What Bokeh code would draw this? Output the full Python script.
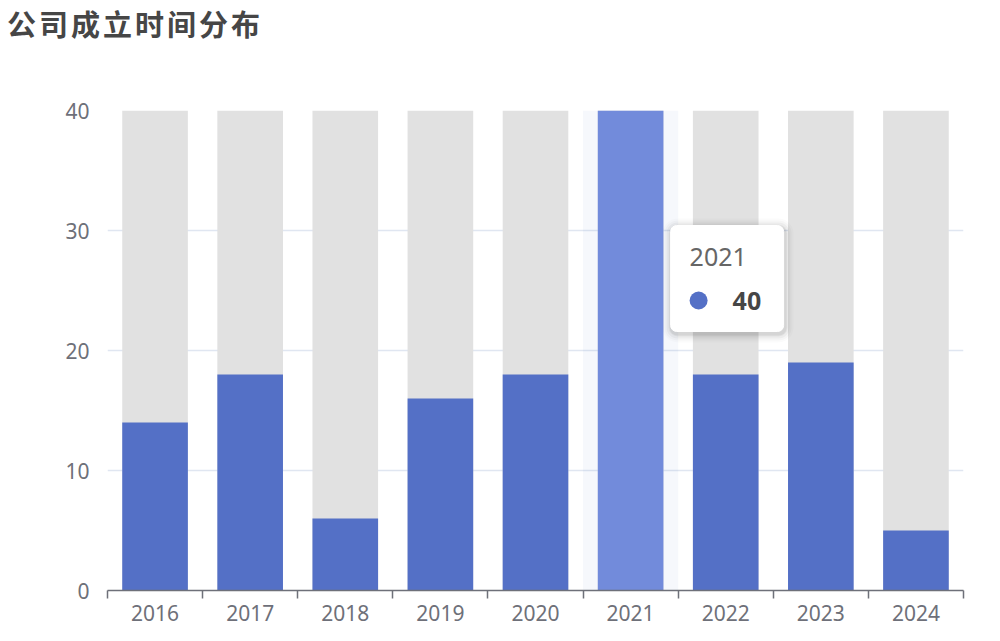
from bokeh.plotting import figure
from bokeh.models import Range1d, FixedTicker, Label, Div
from bokeh.layouts import column
from bokeh.embed import file_html
from bokeh.resources import INLINE

# ---- data ----
years = ["2016", "2017", "2018", "2019", "2020", "2021", "2022", "2023", "2024"]
counts = [14, 18, 6, 16, 18, 40, 18, 19, 5]
y_ticks = [0, 10, 20, 30, 40]
y_max = 40
hover_year = "2021"
title_text = "公司成立时间分布"

# ---- layout ----
W = 984
TITLE_H = 49
H = 633 - TITLE_H
BL, BR, BT, BB = 107, 21, 110 - TITLE_H, 43
n = len(years)
ux = (W - BL - BR) / n      # px per x unit
uy = (H - BT - BB) / y_max  # px per y unit

BLUE = "#5470c6"
BLUE_HI = "#728bdb"
GREY_BG = "#e1e1e1"
AXIS_C = "#6e7079"
FONT = "Noto Sans"

title = Div(text=title_text, width=W, height=TITLE_H, margin=(0, 0, 0, 0),
            styles={"font-family": "'Noto Sans CJK SC', sans-serif", "font-size": "29px",
                    "font-weight": "bold", "color": "#464646", "line-height": "47px",
                    "letter-spacing": "3px",
                    "padding-left": "7px", "box-sizing": "border-box", "white-space": "nowrap"})

p = figure(width=W, height=H, x_range=Range1d(0, n), y_range=Range1d(0, y_max),
           output_backend="svg", toolbar_location=None, margin=(0, 0, 0, 0),
           min_border_left=BL, min_border_right=BR, min_border_top=BT, min_border_bottom=BB)
p.outline_line_color = None
p.background_fill_color = "white"
p.border_fill_color = "white"

p.xgrid.visible = False
p.ygrid.ticker = FixedTicker(ticks=y_ticks)
p.ygrid.grid_line_color = "#e0e6f1"
p.ygrid.grid_line_width = 1.5

# y axis
p.yaxis.ticker = FixedTicker(ticks=y_ticks)
p.yaxis.axis_line_color = None
p.yaxis.major_tick_line_color = None
p.yaxis.minor_tick_line_color = None
p.yaxis.major_label_text_font = FONT
p.yaxis.major_label_text_font_size = "21px"
p.yaxis.major_label_text_color = AXIS_C
p.yaxis.major_label_standoff = 12

# x axis
centers = [i + 0.5 for i in range(n)]
p.xaxis.ticker = FixedTicker(ticks=centers, minor_ticks=list(range(n + 1)))
p.xaxis.major_label_overrides = {c: y for c, y in zip(centers, years)}
p.xaxis.major_tick_line_color = None
p.xaxis.minor_tick_line_color = AXIS_C
p.xaxis.minor_tick_line_width = 1.5
p.xaxis.minor_tick_in = 0
p.xaxis.minor_tick_out = 8
p.xaxis.axis_line_color = AXIS_C
p.xaxis.axis_line_width = 1.5
p.xaxis.major_label_text_font = FONT
p.xaxis.major_label_text_font_size = "21px"
p.xaxis.major_label_text_color = AXIS_C
p.xaxis.major_label_standoff = 6

hi = years.index(hover_year)

# hover shadow band
p.quad(left=[hi], right=[hi + 1], bottom=[0], top=[y_max],
       fill_color=BLUE, fill_alpha=0.05, line_color=None)

# background bars
p.vbar(x=centers, top=[y_max] * n, width=0.69, fill_color=GREY_BG, line_color=None)

# data bars
colors = [BLUE_HI if y == hover_year else BLUE for y in years]
p.vbar(x=centers, top=counts, width=0.69, fill_color=colors, line_color=None)

# ---- helpers: pixel offsets -> data offsets ----
def dx(px):
    return px / ux

def dy(px):
    return px / uy

# ---- tooltip ----
box_l = hi + 0.5 + dx(40)
box_t = counts[hi] - dy(115)
box_w, box_h = 113, 106
for k, a in [(9, 0.015), (7, 0.025), (5, 0.035), (3, 0.045), (2, 0.05)]:
    p.quad(left=[box_l - dx(k) + dx(1)], right=[box_l + dx(box_w + k) + dx(1)],
           top=[box_t + dy(k) - dy(2)], bottom=[box_t - dy(box_h + k) - dy(2)],
           fill_color="black", fill_alpha=a, line_color=None, border_radius=int(6 + k))
p.quad(left=[box_l], right=[box_l + dx(box_w)], top=[box_t], bottom=[box_t - dy(box_h)],
       fill_color="white", line_color="white", border_radius=6)

p.add_layout(Label(x=box_l + dx(19), y=box_t - dy(31), text=hover_year,
                   text_font=FONT, text_font_size="25px", text_color="#666666",
                   text_baseline="middle", text_align="left"))
p.scatter(x=[box_l + dx(28)], y=[box_t - dy(75)], size=18, fill_color=BLUE, line_color=None)
p.add_layout(Label(x=box_l + dx(62), y=box_t - dy(75), text=str(counts[hi]),
                   text_font=FONT, text_font_size="25px", text_font_style="bold",
                   text_color="#464646", text_baseline="middle", text_align="left"))

layout = column(title, p, spacing=0, margin=(0, 0, 0, 0))
open("out.html", "w").write(file_html(layout, INLINE))
